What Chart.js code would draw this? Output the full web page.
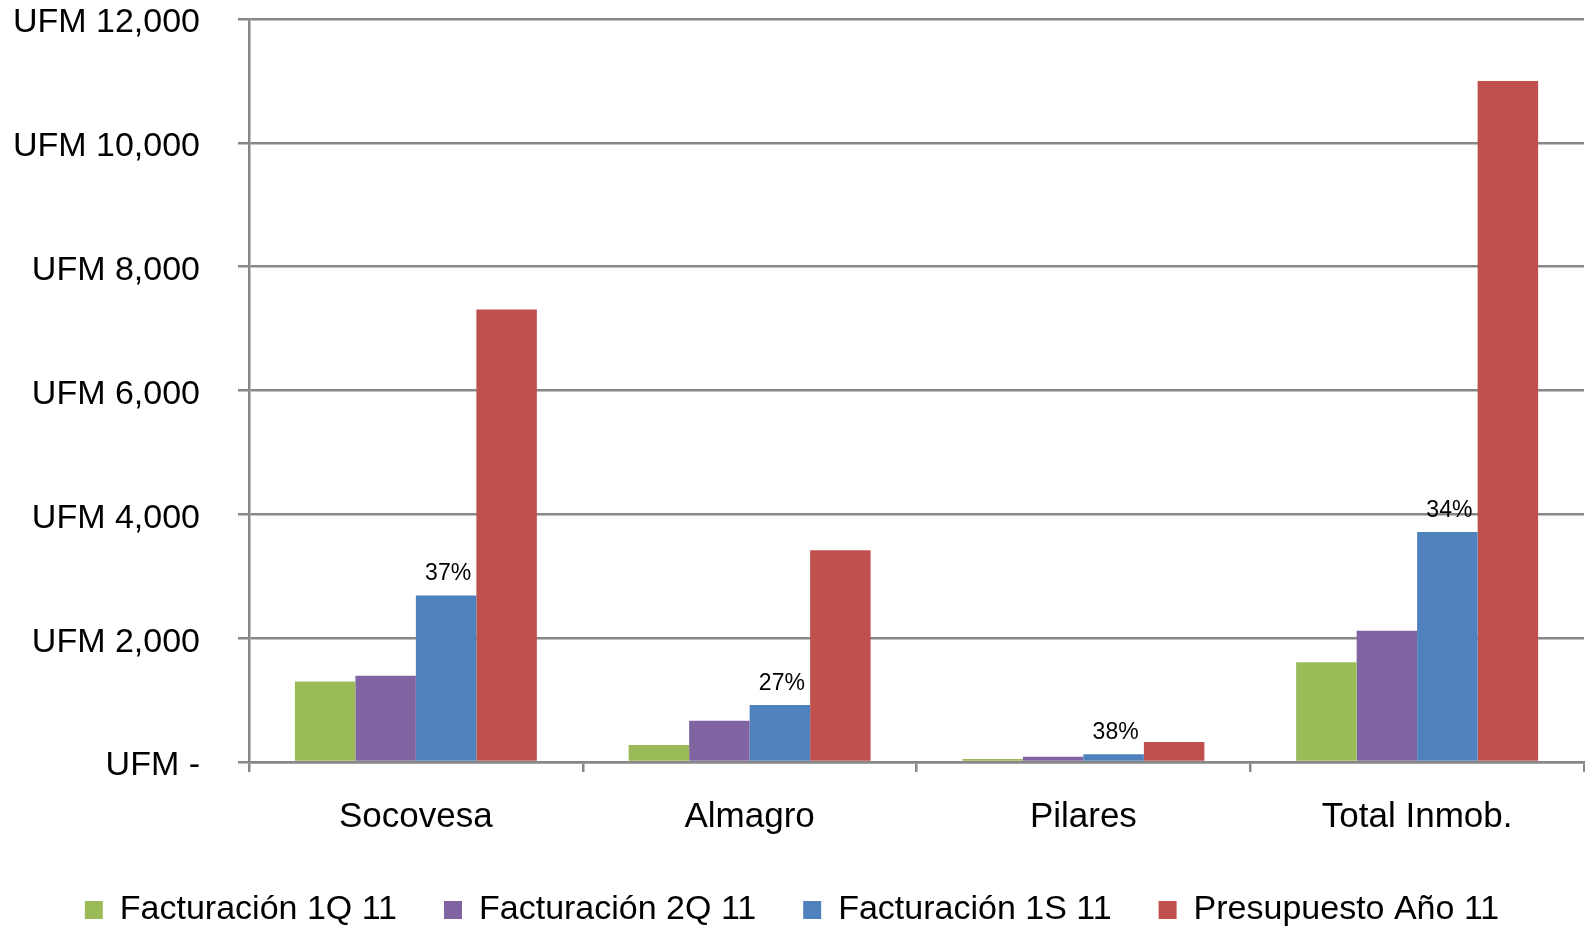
<!DOCTYPE html>
<html>
<head>
<meta charset="utf-8">
<script src="https://cdn.jsdelivr.net/npm/chart.js@4.4.1/dist/chart.umd.min.js"></script>
<style>
  html, body { margin: 0; padding: 0; background: #fff; }
  #wrap { width: 1585px; height: 927px; position: relative; }
</style>
</head>
<body>
<div id="wrap"><canvas id="chart"></canvas></div>
<script>
// ── Data ─────────────────────────────────────────────
const categories   = ["Socovesa", "Almagro", "Pilares", "Total Inmob."];
const fact1Q       = [1300, 275, 50, 1610];
const fact2Q       = [1395, 668, 85, 2120];
const fact1S       = [2690, 920, 124, 3715];
const presupuesto  = [7310, 3420, 325, 11000];
const pctLabels    = ["37%", "27%", "38%", "34%"];
const yTickLabels  = ["UFM -", "UFM 2,000", "UFM 4,000", "UFM 6,000", "UFM 8,000", "UFM 10,000", "UFM 12,000"];

const FONT = "'Liberation Sans', Arial, sans-serif";
const GRID = "#878787";

// percent labels above the 1S bars
const pctPlugin = {
  id: "pctLabels",
  afterDatasetsDraw(chart) {
    const meta = chart.getDatasetMeta(2);
    const ctx = chart.ctx;
    ctx.save();
    ctx.font = "23px " + FONT;
    ctx.fillStyle = "#000";
    ctx.textAlign = "center";
    ctx.textBaseline = "alphabetic";
    meta.data.forEach((bar, i) => {
      ctx.fillText(pctLabels[i], bar.x + 2, bar.y - 15);
    });
    ctx.restore();
  }
};

new Chart(document.getElementById("chart"), {
  type: "bar",
  data: {
    labels: categories,
    datasets: [
      { label: "Facturación 1Q 11",    data: fact1Q,      backgroundColor: "#9BBB59" },
      { label: "Facturación 2Q 11",    data: fact2Q,      backgroundColor: "#8064A2" },
      { label: "Facturación 1S 11",    data: fact1S,      backgroundColor: "#4F81BD" },
      { label: "Presupuesto Año 11",   data: presupuesto, backgroundColor: "#C0504D" },
    ],
  },
  options: {
    responsive: true,
    maintainAspectRatio: false,
    animation: false,
    categoryPercentage: 0.725,
    barPercentage: 1.0,
    layout: { padding: { left: 0, right: 1, top: 0, bottom: 0 } },
    plugins: {
      tooltip: { enabled: false },
      legend: {
        position: "bottom",
        maxHeight: 81,
        labels: {
          color: "#000",
          font: { family: FONT, size: 34 },
          boxWidth: 18,
          boxHeight: 18,
          padding: 47,
        },
      },
    },
    scales: {
      x: {
        offset: true,
        grid: {
          offset: true,
          drawOnChartArea: false,
          drawTicks: true,
          tickLength: 10,
          color: GRID,
          lineWidth: 2.5,
        },
        border: { display: true, color: GRID, width: 2.5 },
        ticks: {
          color: "#000",
          font: { family: FONT, size: 35 },
          padding: 24,
          maxRotation: 0,
        },
        afterFit(scale) { scale.height = 84; },
      },
      y: {
        min: 0,
        max: 12000,
        ticks: {
          stepSize: 2000,
          color: "#000",
          font: { family: FONT, size: 34 },
          padding: 38,
          labelOffset: 4,
          callback: (v, i) => yTickLabels[i],
        },
        grid: { color: GRID, lineWidth: 2.5, tickLength: 11 },
        border: { display: true, color: GRID, width: 2.5 },
        afterFit(scale) {
          scale.width = 249;
          // ticks.padding also pads the top of the axis; keep only half a label
          scale.paddingTop = 19;
          scale.paddingBottom = 0;
        },
      },
    },
  },
  plugins: [pctPlugin],
});
</script>
</body>
</html>
